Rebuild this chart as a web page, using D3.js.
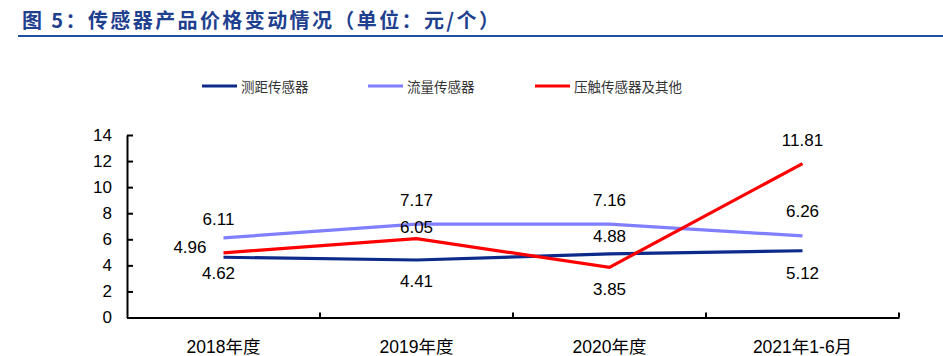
<!DOCTYPE html>
<html><head><meta charset="utf-8">
<script src="https://cdn.jsdelivr.net/npm/d3@7"></script>
<style>
html,body{margin:0;padding:0;background:#fff;}
svg{display:block;font-family:"Liberation Sans",Arial,"Noto Sans CJK SC",sans-serif;}
</style></head><body>
<svg id="c" width="943" height="356"></svg>
<script>
const categories = ["2018年度","2019年度","2020年度","2021年1-6月"];
const rangingSensor = [4.62, 4.41, 4.88, 5.12];
const flowSensor = [6.11, 7.17, 7.16, 6.26];
const pressureSensor = [4.96, 6.05, 3.85, 11.81];
const seriesNames = ["测距传感器","流量传感器","压触传感器及其他"];
const yTicks = [0,2,4,6,8,10,12,14];
const titleText = "图 5：传感器产品价格变动情况（单位：元/个）";

// label placement (layout only): [dx, dy] from point
const labelOffsets = [
  [[-5,16.5],[0,21],[0,-17],[0,23]],
  [[-5,-18],[0,-24],[0,-24],[0,-24.5]],
  [[-25,-5.5],[0,-11],[0,22],[0,-23.5]]
];
const colors = ["#0c2a8a","#7f7fff","#ff0000"];
const series = [rangingSensor, flowSensor, pressureSensor];

const svg = d3.select("#c");
// title
svg.append("text").attr("x",22).attr("y",27.5)
  .attr("font-family","'Noto Sans CJK SC','Liberation Sans',sans-serif")
  .attr("font-size",20).attr("font-weight","bold").attr("fill","#1f3f8f")
  .attr("letter-spacing","2.4px")
  .text(titleText);
svg.append("line").attr("x1",18).attr("x2",943).attr("y1",36).attr("y2",36)
  .attr("stroke","#1f4ea0").attr("stroke-width",2);

const x0 = 127, x1 = 899, yTop = 135, yBot = 317.5;
const x = d3.scaleBand().domain(categories).range([x0,x1]);
const y = d3.scaleLinear().domain([0,14]).range([yBot,yTop]);
const cx = c => x(c) + x.bandwidth()/2;

// y axis
const yAxis = svg.append("g").attr("transform",`translate(${x0},0)`)
  .call(d3.axisLeft(y).tickValues(yTicks).tickSizeInner(-6).tickSizeOuter(0).tickPadding(15));
yAxis.select(".domain").attr("stroke","#000").attr("stroke-width",2);
yAxis.selectAll(".tick line").attr("stroke","#000").attr("stroke-width",2);
yAxis.selectAll(".tick text").attr("font-size",17).attr("fill","#000")
  .attr("font-family","'Liberation Sans',Arial,sans-serif");

// x axis
const xAxis = svg.append("g").attr("transform",`translate(0,${yBot})`)
  .call(d3.axisBottom(x).tickSize(0).tickPadding(23));
xAxis.select(".domain").attr("stroke","#000").attr("stroke-width",2);
xAxis.selectAll(".tick text").attr("font-size",17.5).attr("fill","#000")
  .attr("font-family","'Liberation Sans',Arial,'Noto Sans CJK SC',sans-serif");
// category boundary ticks (pointing up)
const bounds = categories.slice(1).map(c => x(c)).concat([x1]);
svg.append("g").selectAll("line").data(bounds).join("line")
  .attr("x1",d=>d).attr("x2",d=>d).attr("y1",yBot).attr("y2",yBot-5)
  .attr("stroke","#000").attr("stroke-width",2);

// lines
const line = d3.line().x((d,i)=>cx(categories[i])).y(d=>y(d));
series.forEach((s,k)=>{
  svg.append("path").datum(s).attr("d",line).attr("fill","none")
    .attr("stroke",colors[k]).attr("stroke-width",3.2).attr("stroke-linejoin","miter");
});
// labels
series.forEach((s,k)=>{
  svg.append("g").selectAll("text").data(s).join("text")
    .attr("x",(d,i)=>cx(categories[i]) + labelOffsets[k][i][0])
    .attr("y",(d,i)=>y(d) + labelOffsets[k][i][1])
    .attr("text-anchor",(d,i)=> labelOffsets[k][i][0] < -15 ? "end" : "middle")
    .attr("dx",(d,i)=> labelOffsets[k][i][0] < -15 ? 8 : 0)
    .attr("dominant-baseline","central")
    .attr("font-size",17).attr("fill","#000")
    .attr("font-family","'Liberation Sans',Arial,sans-serif")
    .text(d=>d.toFixed(2));
});

// legend
const legendX = [202, 368, 535];
const lg = svg.append("g");
seriesNames.forEach((n,k)=>{
  lg.append("line").attr("x1",legendX[k]).attr("x2",legendX[k]+35)
    .attr("y1",86).attr("y2",86).attr("stroke",colors[k]).attr("stroke-width",3.2);
  lg.append("text").attr("x",legendX[k]+39).attr("y",86)
    .attr("dominant-baseline","central")
    .attr("font-family","'Noto Sans CJK SC',sans-serif")
    .attr("font-size",13.5).attr("fill","#333").text(n);
});
</script>
</body></html>
